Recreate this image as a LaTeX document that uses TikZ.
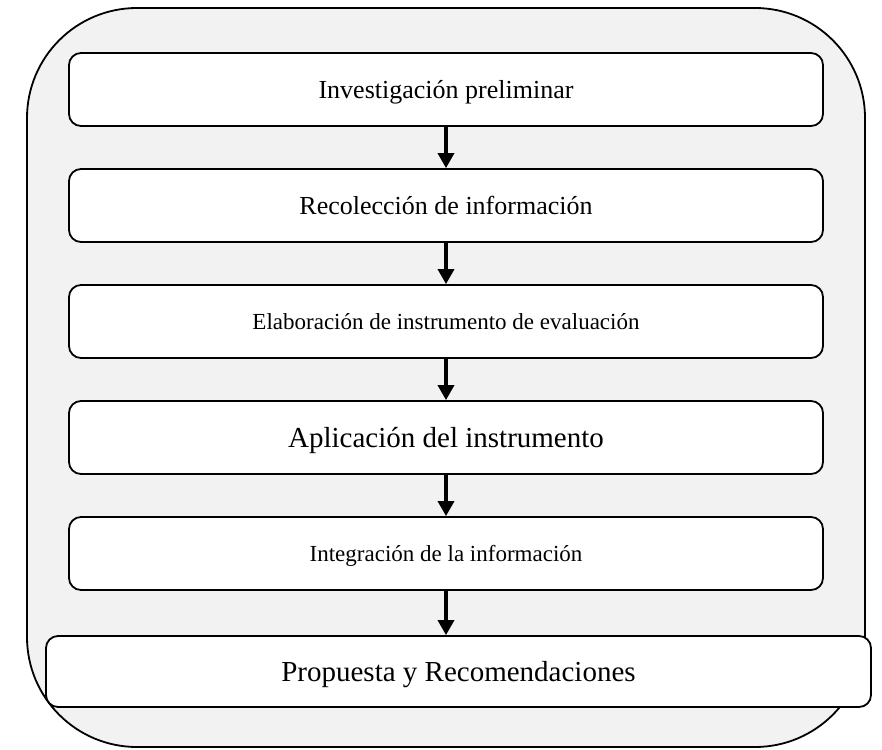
\documentclass[tikz,border=0pt]{standalone}
\usepackage{fontspec}
\setmainfont{Liberation Serif}
\usetikzlibrary{arrows.meta}
\definecolor{outerbg}{HTML}{F2F2F2}
\begin{document}
\begin{tikzpicture}[x=1pt,y=-1pt,
  stepbox/.style={draw=black, line width=1.8pt, fill=white, rounded corners=12pt,
     minimum width=754pt, minimum height=73pt, inner sep=0pt, anchor=center, text depth=0pt},
  flowarrow/.style={line width=3.5pt, -{Triangle[length=15pt,width=16pt]}}]
\useasboundingbox (0,0) rectangle (882,749);
\draw[line width=1.8pt, fill=outerbg, rounded corners=110pt] (27,8) rectangle (865,747);
\node[stepbox, font=\fontsize{26}{30}\selectfont] (b1) at (446,89.5) {Investigación preliminar};
\node[stepbox, font=\fontsize{26}{30}\selectfont] (b2) at (446,205.5) {Recolección de información};
\node[stepbox, font=\fontsize{23}{27}\selectfont] (b3) at (446,321.5) {Elaboración de instrumento de evaluación};
\node[stepbox, font=\fontsize{29}{33}\selectfont] (b4) at (446,437.5) {Aplicación del instrumento};
\node[stepbox, font=\fontsize{23}{27}\selectfont] (b5) at (446,553.5) {Integración de la información};
\node[stepbox, minimum width=825pt, minimum height=71pt, font=\fontsize{29}{33}\selectfont] (b6) at (458.5,671.5) {Propuesta y Recomendaciones};
\draw[flowarrow] (b1.south) -- (b2.north);
\draw[flowarrow] (b2.south) -- (b3.north);
\draw[flowarrow] (b3.south) -- (b4.north);
\draw[flowarrow] (b4.south) -- (b5.north);
\draw[flowarrow] (b5.south) -- (b6.north -| b5.south);
\end{tikzpicture}
\end{document}
